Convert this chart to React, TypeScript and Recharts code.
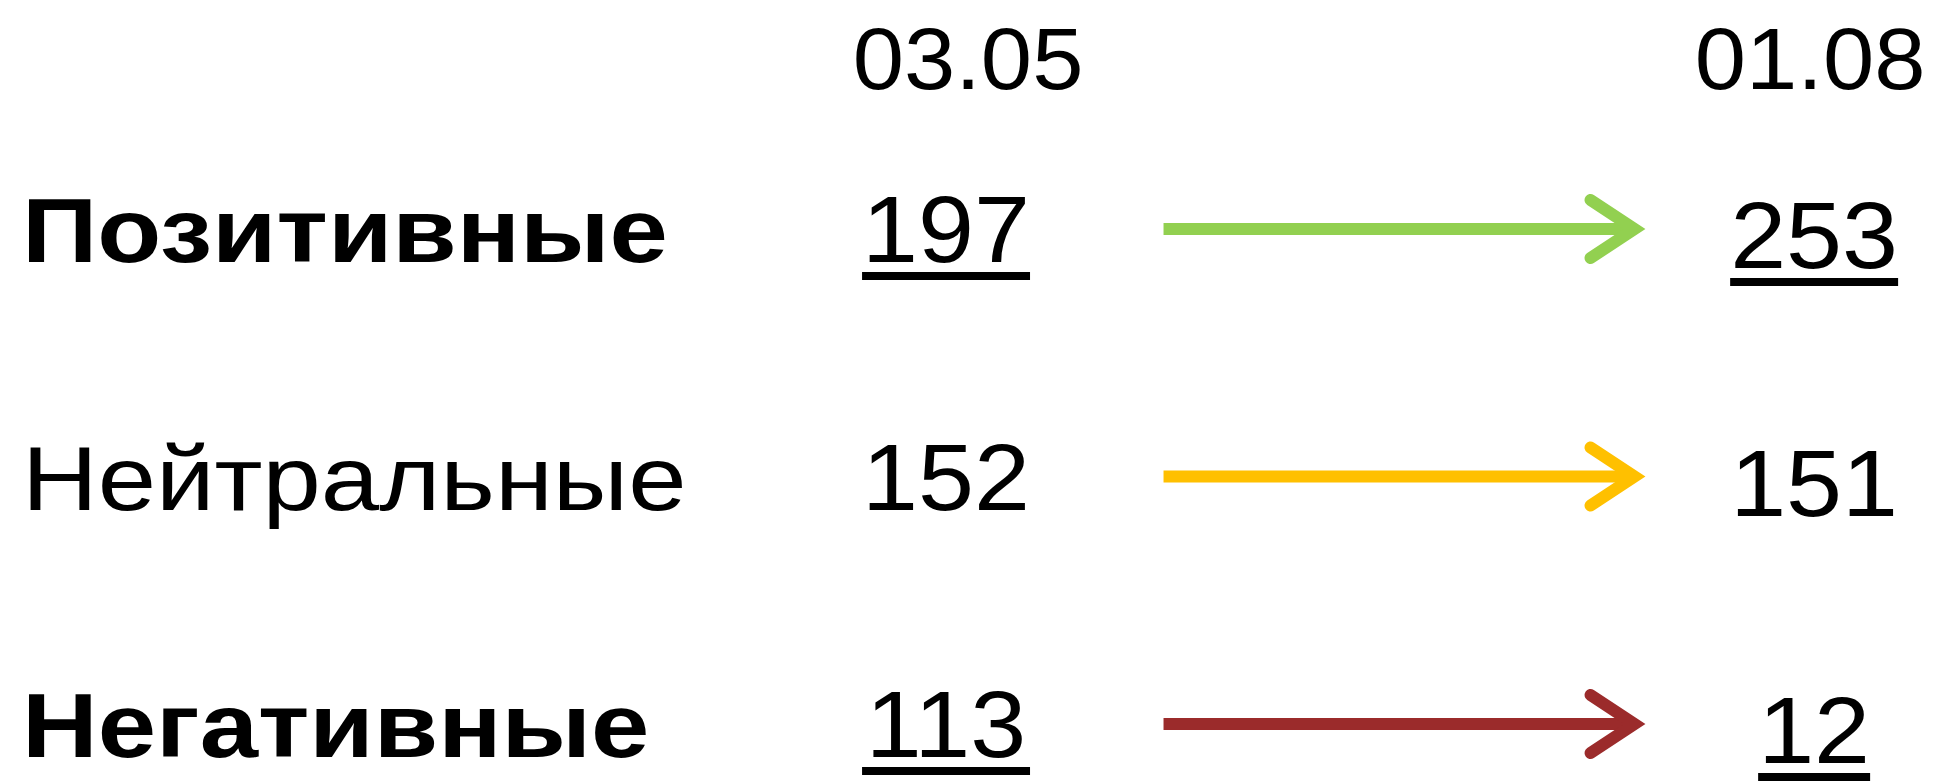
import React from 'react';
import { ScatterChart, Scatter, XAxis, YAxis } from 'recharts';

// ---- data ----
const categories = ['Позитивные', 'Нейтральные', 'Негативные'];
const dates = ['03.05', '01.08'];
const before = [197, 152, 113];
const after = [253, 151, 12];
const underlined = [true, false, true];
const boldLabel = [true, false, true];
const arrowColors = ['#92D050', '#FFC000', '#9B2B2B'];

// ---- layout / style constants ----
const W = 1940;
const H = 782;
const FONT = '"Liberation Sans", Arial, sans-serif';
const SX = 1.06;
const LABEL_SX = 1.165;
const VALUE_FS = 95;
const DATE_FS = 87;
const LABEL_FS = 90;
const ARROW_COL = 1.527;
const DATE_DX = [22, -4];
const COL_DY = [0, 6];

const beforeData = categories.map((c, i) => ({ row: i + 1, col: 1, value: before[i], u: underlined[i] }));
const afterData = categories.map((c, i) => ({ row: i + 1, col: 2, value: after[i], u: underlined[i] }));
const arrowData = categories.map((c, i) => ({ row: i + 1, col: ARROW_COL, color: arrowColors[i] }));

const Txt = ({ x, y, anchor, size, weight, sx = SX, children }: any) => (
  <text
    transform={`translate(${x},${y}) scale(${sx},1)`}
    textAnchor={anchor}
    fontSize={size}
    fontWeight={weight}
    fontFamily={FONT}
    fill="#000"
  >
    {children}
  </text>
);

const ValueShape = (props: any) => {
  const { cx, cy, payload } = props;
  const s = String(payload.value);
  const dy = COL_DY[payload.col - 1];
  const w = s.length * 0.556 * VALUE_FS * SX;
  return (
    <g>
      <Txt x={cx} y={cy + 33 + dy} anchor="middle" size={VALUE_FS} weight="normal">{s}</Txt>
      {payload.u && <rect x={cx - w / 2} y={cy + 43 + dy} width={w} height={8} fill="#000" />}
    </g>
  );
};

const ArrowShape = (props: any) => {
  const { cx, cy, payload } = props;
  const c = payload.color;
  const x0 = cx - 240;
  const tip = cx + 231;
  return (
    <g>
      <line x1={x0} y1={cy} x2={tip - 8} y2={cy} stroke={c} strokeWidth={12} />
      <polyline
        points={`${tip - 44},${cy - 29} ${tip},${cy} ${tip - 44},${cy + 29}`}
        fill="none"
        stroke={c}
        strokeWidth={12}
        strokeLinecap="round"
        strokeLinejoin="miter"
      />
    </g>
  );
};

const DateTick = (props: any) => {
  const { x, payload } = props;
  const i = payload.value - 1;
  return (
    <Txt x={x + DATE_DX[i]} y={89} anchor="middle" size={DATE_FS} weight="normal">
      {dates[i]}
    </Txt>
  );
};

const RowTick = (props: any) => {
  const { y, payload } = props;
  const i = payload.value - 1;
  return (
    <Txt x={22} y={y + 33} anchor="start" size={LABEL_FS} sx={LABEL_SX} weight={boldLabel[i] ? 'bold' : 'normal'}>
      {categories[i]}
    </Txt>
  );
};

export default function App() {
  return (
    <div style={{ width: W, height: H, background: '#fff' }}>
      <style>{`body{margin:0;background:#fff}`}</style>
      <ScatterChart width={W} height={H} margin={{ top: 0.5, right: 0, bottom: 8.5, left: 0 }}>
        <XAxis
          type="number"
          dataKey="col"
          orientation="top"
          domain={[0.5, 2.145]}
          ticks={[1, 2]}
          height={80}
          axisLine={false}
          tickLine={false}
          tick={<DateTick />}
        />
        <YAxis
          type="number"
          dataKey="row"
          reversed
          domain={[0.4, 3.2]}
          ticks={[1, 2, 3]}
          width={512}
          axisLine={false}
          tickLine={false}
          tick={<RowTick />}
        />
        <Scatter data={arrowData} shape={<ArrowShape />} isAnimationActive={false} />
        <Scatter data={beforeData} shape={<ValueShape />} isAnimationActive={false} />
        <Scatter data={afterData} shape={<ValueShape />} isAnimationActive={false} />
      </ScatterChart>
    </div>
  );
}
